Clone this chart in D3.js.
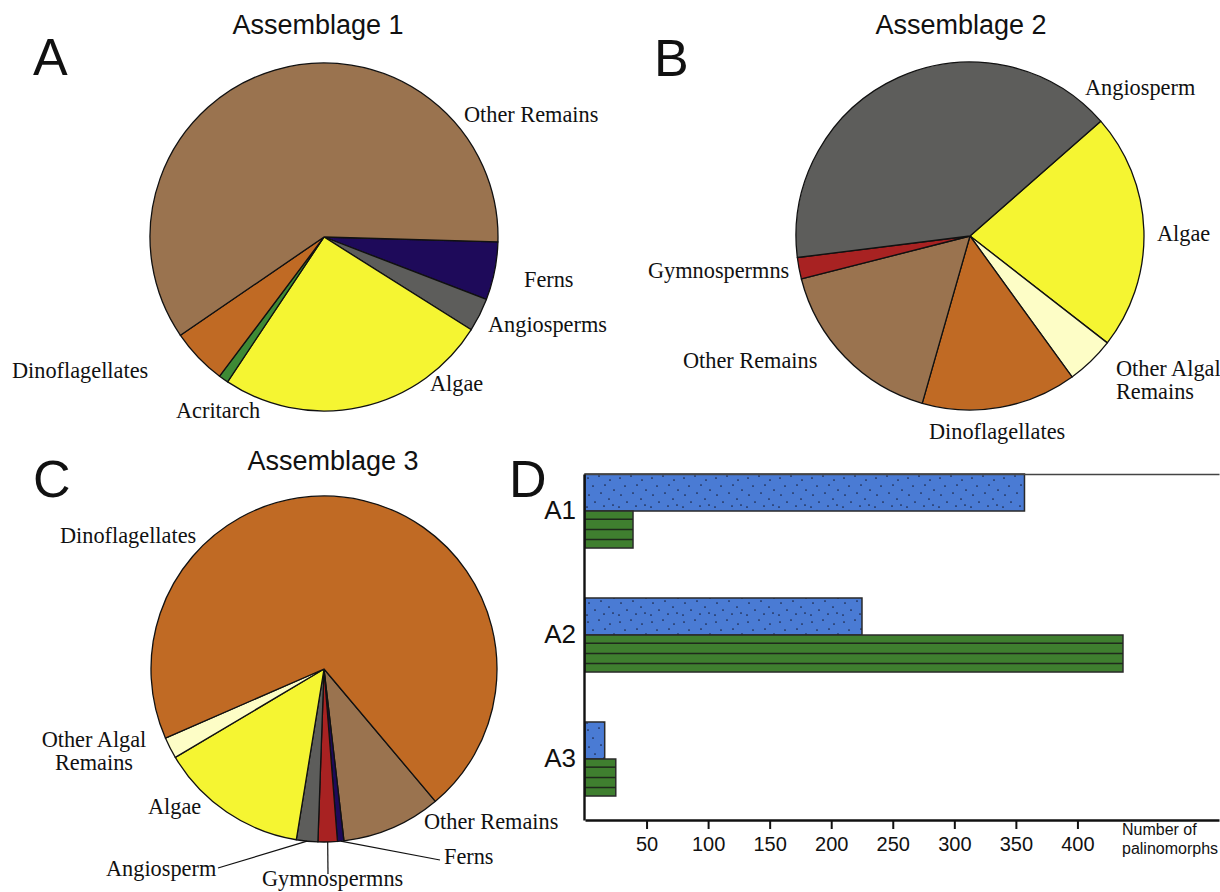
<!DOCTYPE html>
<html>
<head>
<meta charset="utf-8">
<script src="https://cdn.jsdelivr.net/npm/d3@7"></script>
<style>
  body { margin: 0; background: #fff; }
  svg { display: block; }
</style>
</head>
<body>
<div id="chart"></div>
<script>
// pie A - Assemblage 1 (percent of palinomorphs, clockwise from 3 o'clock)
const pieAKeys = ["Ferns", "Angiosperms", "Algae", "Acritarch", "Dinoflagellates", "Other Remains"];
const pieAValues = [5.4, 3.1, 25.4, 0.9, 5.2, 60.0];

// pie B - Assemblage 2
const pieBKeys = ["Algae", "Other Algal Remains", "Dinoflagellates", "Other Remains", "Gymnospermns", "Angiosperm"];
const pieBValues = [22.0, 4.5, 14.4, 16.6, 2.0, 40.5];

// pie C - Assemblage 3
const pieCKeys = ["Other Remains", "Ferns", "Gymnospermns", "Angiosperm", "Algae", "Other Algal Remains", "Dinoflagellates"];
const pieCValues = [9.3, 0.6, 1.8, 2.0, 13.9, 2.0, 70.4];

// bar chart D
const groups = ["A1", "A2", "A3"];
const seriesBlue = [357, 225, 16];
const seriesGreen = [39, 437, 25];
const xTicks = [50, 100, 150, 200, 250, 300, 350, 400];

const W = 1220, H = 892;

const svg = d3.select("#chart")
    .append("svg")
    .attr("width", W)
    .attr("height", H);

const color = d3.scaleOrdinal()
    .domain(["Other Remains", "Dinoflagellates", "Algae", "Ferns", "Angiosperms", "Angiosperm",
        "Acritarch", "Gymnospermns", "Other Algal Remains"])
    .range(["#9A734F", "#C06A24", "#F5F532", "#1E0A5A", "#5D5D5B", "#5D5D5B",
        "#3E8A35", "#A82222", "#FDFDC6"]);

const sans = "'Liberation Sans', Arial, sans-serif";
const serif = "'Liberation Serif', 'Times New Roman', serif";
const deg = Math.PI / 180;

function drawPie(cx, cy, r, keys, values, startDeg, labels, leaders) {
    const data = keys.map((k, i) => ({key: k, value: values[i]}));
    const pie = d3.pie().sort(null).value(d => d.value)
        .startAngle(startDeg * deg).endAngle(startDeg * deg + 2 * Math.PI);
    const arc = d3.arc().innerRadius(0).outerRadius(r);
    const g = svg.append("g").attr("transform", `translate(${cx},${cy})`);
    const arcs = pie(data);
    g.selectAll("path")
        .data(arcs)
        .join("path")
        .attr("d", arc)
        .attr("fill", d => color(d.data.key))
        .attr("stroke", "#111")
        .attr("stroke-width", 1.3)
        .attr("stroke-linejoin", "round");

    labels.forEach(l => {
        const t = g.append("text")
            .attr("x", l.dx)
            .attr("y", l.dy)
            .attr("text-anchor", l.anchor || "start")
            .attr("font-family", serif)
            .attr("font-size", 22.3)
            .attr("fill", "#111");
        l.lines.forEach((s, i) => {
            t.append("tspan").attr("x", l.dx).attr("dy", i === 0 ? 0 : 23).text(s);
        });
    });

    (leaders || []).forEach(ld => {
        const a = arcs.find(d => d.data.key === ld.key);
        const mid = (a.startAngle + a.endAngle) / 2;
        g.append("line")
            .attr("x1", r * Math.sin(mid))
            .attr("y1", -r * Math.cos(mid))
            .attr("x2", ld.dx)
            .attr("y2", ld.dy)
            .attr("stroke", "#111")
            .attr("stroke-width", 1.2);
    });
    return g;
}

// titles and panel letters
const titles = [
    {t: "Assemblage 1", x: 318, y: 34},
    {t: "Assemblage 2", x: 961, y: 34},
    {t: "Assemblage 3", x: 333, y: 470}
];
titles.forEach(d => svg.append("text")
    .attr("x", d.x).attr("y", d.y)
    .attr("text-anchor", "middle")
    .attr("font-family", sans)
    .attr("font-size", 27)
    .attr("fill", "#111")
    .text(d.t));

const letters = [
    {t: "A", x: 33, y: 75},
    {t: "B", x: 654, y: 76},
    {t: "C", x: 33, y: 497},
    {t: "D", x: 509, y: 497}
];
letters.forEach(d => svg.append("text")
    .attr("x", d.x).attr("y", d.y)
    .attr("font-family", sans)
    .attr("font-size", 52)
    .attr("fill", "#111")
    .text(d.t));

drawPie(324, 237, 174, pieAKeys, pieAValues, 91.6, [
    {lines: ["Other Remains"], dx: 140, dy: -115},
    {lines: ["Ferns"], dx: 200, dy: 50},
    {lines: ["Angiosperms"], dx: 164, dy: 95},
    {lines: ["Algae"], dx: 106, dy: 154},
    {lines: ["Acritarch"], dx: -148, dy: 181},
    {lines: ["Dinoflagellates"], dx: -312, dy: 141}
]);

drawPie(970, 236, 174, pieBKeys, pieBValues, 48.7, [
    {lines: ["Angiosperm"], dx: 115, dy: -141},
    {lines: ["Algae"], dx: 187, dy: 5},
    {lines: ["Gymnospermns"], dx: -322, dy: 42},
    {lines: ["Other Remains"], dx: -287, dy: 132},
    {lines: ["Other Algal", "Remains"], dx: 146, dy: 140},
    {lines: ["Dinoflagellates"], dx: -41, dy: 203}
]);

drawPie(324, 669, 173, pieCKeys, pieCValues, 139.9, [
    {lines: ["Dinoflagellates"], dx: -264, dy: -126},
    {lines: ["Other Algal", "Remains"], dx: -230, dy: 78, anchor: "middle"},
    {lines: ["Algae"], dx: -176, dy: 145},
    {lines: ["Other Remains"], dx: 100, dy: 160},
    {lines: ["Ferns"], dx: 120, dy: 195},
    {lines: ["Gymnospermns"], dx: -62, dy: 217},
    {lines: ["Angiosperm"], dx: -218, dy: 207}
], [
    {key: "Angiosperm", dx: -106, dy: 199},
    {key: "Gymnospermns", dx: 4, dy: 205},
    {key: "Ferns", dx: 116, dy: 191}
]);

// ---- bar chart D ----
const x = d3.scaleLinear().domain([0, 515]).range([585, 1219]);
const y = d3.scaleBand().domain(groups).range([474, 820])
    .paddingInner(0.403).paddingOuter(0.0967).align(0);
const sub = d3.scaleBand().domain(["blue", "green"]).range([0, y.bandwidth()]);

const defs = svg.append("defs");
const dots = defs.append("pattern")
    .attr("id", "stipple")
    .attr("patternUnits", "userSpaceOnUse")
    .attr("x", 585).attr("y", 474)
    .attr("width", 32).attr("height", 36);
dots.append("rect").attr("width", 32).attr("height", 36).attr("fill", "#4A7BD4");
const dotPos = [[3, 4], [14, 2], [25, 6], [8, 12], [20, 11], [29, 16], [4, 21], [16, 19],
    [24, 25], [10, 28], [2, 33], [19, 32], [28, 31]];
dots.selectAll("circle").data(dotPos).join("circle")
    .attr("cx", d => d[0]).attr("cy", d => d[1]).attr("r", 0.85)
    .attr("fill", "#1a2240");

const barData = groups.flatMap((g, i) => [
    {group: g, s: "blue", v: seriesBlue[i]},
    {group: g, s: "green", v: seriesGreen[i]}
]);

const bars = svg.append("g");
bars.selectAll("rect")
    .data(barData)
    .join("rect")
    .attr("x", x(0))
    .attr("y", d => y(d.group) + sub(d.s))
    .attr("width", d => x(d.v) - x(0))
    .attr("height", sub.bandwidth())
    .attr("fill", d => d.s === "blue" ? "url(#stipple)" : "#3F7F2F")
    .attr("stroke", "#2a2a2a")
    .attr("stroke-width", 1.5);

// stripes on green bars
const stripeFr = [0.22, 0.5, 0.77];
barData.filter(d => d.s === "green").forEach(d => {
    stripeFr.forEach(f => {
        const yy = y(d.group) + sub(d.s) + f * sub.bandwidth();
        bars.append("line")
            .attr("x1", x(0)).attr("x2", x(d.v))
            .attr("y1", yy).attr("y2", yy)
            .attr("stroke", "#1f2a1c")
            .attr("stroke-width", 1.5);
    });
});

// top frame line
svg.append("g")
    .attr("transform", "translate(0,474)")
    .call(d3.axisTop(x).tickValues([]).tickSizeOuter(0))
    .call(g => g.select(".domain").attr("stroke", "#444").attr("stroke-width", 1.6));

// x axis
svg.append("g")
    .attr("transform", "translate(0,820)")
    .call(d3.axisBottom(x).tickValues(xTicks).tickSize(9).tickSizeOuter(0).tickPadding(8))
    .call(g => g.select(".domain").attr("stroke", "#111").attr("stroke-width", 2.6))
    .call(g => g.selectAll(".tick line").attr("stroke", "#111").attr("stroke-width", 2))
    .call(g => g.selectAll(".tick text")
        .attr("font-family", sans).attr("font-size", 20).attr("fill", "#111"));

// y axis
svg.append("g")
    .attr("transform", "translate(584,0)")
    .call(d3.axisLeft(y).tickSize(0).tickPadding(8))
    .call(g => g.select(".domain").attr("stroke", "#111").attr("stroke-width", 2.4))
    .call(g => g.selectAll(".tick text")
        .attr("font-family", sans).attr("font-size", 26).attr("fill", "#111"));

const axisTitle = svg.append("text")
    .attr("x", 1122).attr("y", 835)
    .attr("font-family", sans)
    .attr("font-size", 16)
    .attr("fill", "#111");
axisTitle.append("tspan").attr("x", 1122).text("Number of");
axisTitle.append("tspan").attr("x", 1122).attr("dy", 18.5).text("palinomorphs");
</script>
</body>
</html>
